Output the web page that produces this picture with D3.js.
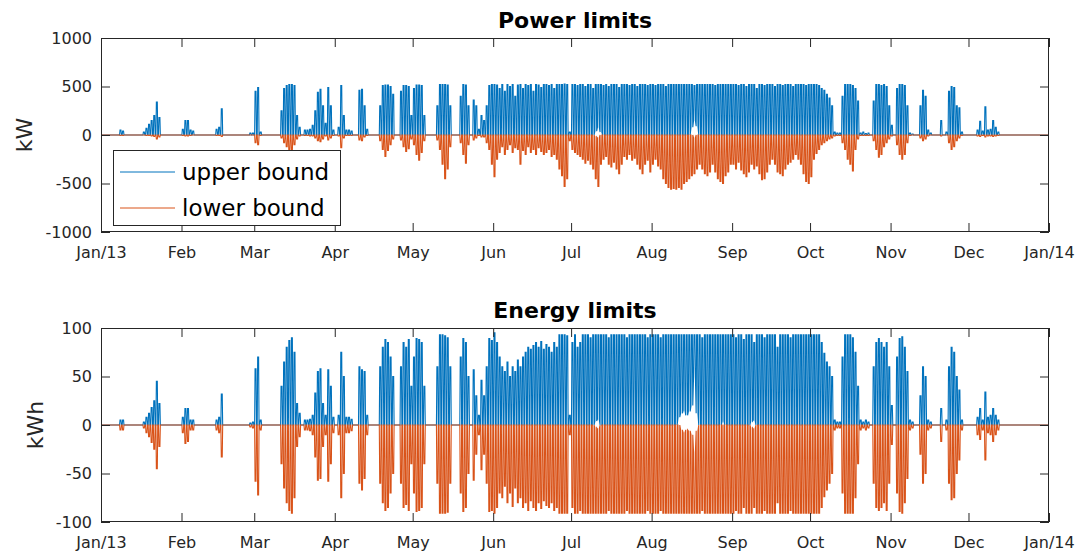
<!DOCTYPE html>
<html>
<head>
<meta charset="utf-8">
<title>Power and energy limits</title>
<script src="https://d3js.org/d3.v7.min.js"></script>
<style>
  body { margin: 0; background: #fff; overflow: hidden; }
  svg text { font-family: "DejaVu Sans", sans-serif; fill: #262626; }
</style>
</head>
<body>
<script>
// ---- data: one daily peak per day, grouped by month (Jan..Dec 2013) ----
const monthLabels = ["Jan/13", "Feb", "Mar", "Apr", "May", "Jun", "Jul", "Aug", "Sep", "Oct", "Nov", "Dec", "Jan/14"];

// power upper bound, kW
const powerUpper = [
  [0,0,0,0,0,0,0,50,40,0, 0,0,0,0,0,0,30,70,110,150, 200,340,180,0,0,0,0,0,0,0, 0],
  [60,150,150,50,40,0,0,0,0,0, 0,0,0,60,80,270,0,0,0,0, 0,0,0,0,0,0,20,20],
  [450,490,30,0,0,0,0,0,0,0, 250,480,510,520,520,510,200,80,0,50, 50,60,100,250,440,470,300,120,490,300, 50],
  [0,80,510,200,50,50,40,0,0,460, 470,300,60,0,0,0,0,300,510,515, 515,500,420,0,0,450,510,510,500,200],
  [480,515,515,510,200,0,0,0,0,300, 520,520,520,515,300,0,0,0,400,520, 515,300,0,360,300,60,200,150,300,510, 520],
  [520,515,480,520,450,520,500,520,400,515, 520,480,520,510,520,450,520,515,490,520, 520,510,520,480,520,520,520,525,520,30],
  [520,520,510,520,520,500,520,520,480,520, 520,520,510,520,500,520,520,520,490,520, 520,520,510,520,520,500,520,520,520,510, 520],
  [520,510,520,520,520,500,520,520,520,520, 520,520,520,520,520,520,510,520,520,520, 520,520,520,520,510,520,520,520,520,520, 520],
  [520,520,510,520,520,500,520,520,520,480, 520,520,510,520,520,520,500,520,520,510, 520,520,520,500,520,520,520,520,510,520],
  [520,520,520,510,480,460,420,380,300,30, 20,20,400,520,520,520,510,480,350,20, 30,15,20,0,350,520,520,510,520,500, 300],
  [100,0,480,520,520,510,300,20,10,0, 0,300,460,400,50,20,0,0,0,150, 0,30,450,500,490,300,280,30,0,0],
  [0,0,0,50,140,40,290,50,60,150, 80,30,0,0,0,0,0,0,0,0, 0,0,0,0,0,0,0,0,0,0, 0]
];

// power lower bound, kW
const powerLower = [
  [0,0,0,0,0,0,0,-5,-5,0, 0,0,0,0,0,0,0,-5,-5,-10, -15,-40,-20,0,0,0,0,0,0,0, 0],
  [-5,-10,-10,-5,0,0,0,0,0,0, 0,0,0,-5,-5,-15,0,0,0,0, 0,0,0,0,0,0,0,0],
  [-80,-100,-5,0,0,0,0,0,0,0, -30,-80,-120,-170,-160,-100,-40,-10,0,-5, -5,-10,-10,-30,-60,-70,-40,-10,-50,-30, -5],
  [0,-10,-130,-30,-5,-5,-5,0,0,-50, -60,-20,-5,0,0,0,0,-60,-150,-220, -160,-100,-40,0,0,-50,-120,-170,-140,-40],
  [-100,-200,-260,-180,-60,0,0,0,0,-50, -150,-300,-450,-350,-120,0,0,0,-80,-200, -290,-100,0,-50,-30,-5,-20,-20,-80,-150, -300],
  [-430,-250,-180,-120,-200,-150,-100,-180,-130,-150, -300,-160,-200,-120,-180,-150,-200,-130,-170,-200, -180,-150,-220,-200,-250,-350,-420,-530,-450,-60],
  [-150,-180,-200,-220,-250,-290,-260,-300,-350,-450, -530,-300,-250,-220,-300,-330,-280,-350,-400,-300, -220,-250,-200,-260,-240,-300,-350,-400,-300,-260, -380],
  [-300,-250,-320,-350,-450,-500,-540,-560,-550,-560, -540,-560,-500,-480,-450,-420,-400,-350,-300,-350, -400,-420,-380,-300,-380,-450,-480,-500,-420,-380, -300],
  [-300,-350,-280,-360,-400,-430,-380,-300,-350,-320, -400,-460,-450,-380,-300,-250,-300,-380,-400,-420, -350,-300,-280,-250,-200,-250,-300,-400,-480,-500],
  [-430,-250,-190,-150,-100,-80,-60,-40,-30,-10, -5,-5,-80,-150,-250,-300,-370,-150,-40,-5, -5,-5,-5,0,-60,-150,-230,-200,-120,-80, -40],
  [-10,0,-100,-200,-250,-200,-80,-5,0,0, 0,-30,-60,-40,-10,0,0,0,0,-10, 0,0,-80,-150,-120,-60,-30,-5,0,0],
  [0,0,0,-10,-15,-5,-20,-10,-10,-15, -10,-5,0,0,0,0,0,0,0,0, 0,0,0,0,0,0,0,0,0,0, 0]
];

// energy upper bound, kWh
const energyUpper = [
  [0,0,0,0,0,0,0,5,5,0, 0,0,0,0,0,0,3,8,12,18, 25,45,22,0,0,0,0,0,0,0, 0],
  [8,17,17,5,5,0,0,0,0,0, 0,0,0,5,8,32,0,0,0,0, 0,0,0,0,0,0,2,3],
  [58,70,5,0,0,0,0,0,0,0, 40,65,80,87,90,75,22,12,0,5, 5,6,10,33,55,58,22,10,57,40, 8],
  [0,10,75,50,8,8,6,0,0,60, 57,55,10,0,0,0,0,60,80,88, 85,70,50,0,0,60,85,80,88,40],
  [70,89,88,85,40,0,0,0,0,60, 93,93,92,90,60,0,0,0,70,89, 85,50,0,57,30,10,46,30,60,89, 87],
  [95,85,70,60,55,65,50,60,55,67, 60,70,75,80,78,82,85,80,86,78, 83,80,75,85,80,93,93,93,92,10],
  [85,93,80,85,93,93,93,90,93,93, 93,93,93,93,90,93,93,93,93,93, 93,90,93,93,93,93,93,93,93,90, 93],
  [93,93,93,90,93,93,93,93,93,93, 93,93,93,93,93,93,93,93,93,90, 93,93,93,93,93,93,93,93,93,93, 93],
  [93,90,93,93,88,93,93,93,85,93, 93,93,90,93,93,93,93,80,93,93, 93,93,90,93,93,93,93,93,93,93],
  [93,93,93,93,85,74,65,60,50,5, 3,3,70,93,93,93,90,75,40,5, 3,5,3,0,60,85,89,85,80,85, 60],
  [20,0,70,89,91,80,55,5,3,0, 0,30,60,50,5,3,0,0,0,17, 0,5,60,80,75,50,36,5,0,0],
  [0,0,0,8,17,5,34,8,10,17, 10,5,0,0,0,0,0,0,0,0, 0,0,0,0,0,0,0,0,0,0, 0]
];

// energy lower bound, kWh
const energyLower = [
  [0,0,0,0,0,0,0,-5,-5,0, 0,0,0,0,0,0,-3,-8,-12,-18, -25,-45,-22,0,0,0,0,0,0,0, 0],
  [-8,-19,-17,-5,-5,0,0,0,0,0, 0,0,0,-5,-8,-33,0,0,0,0, 0,0,0,0,0,0,-2,-3],
  [-58,-72,-5,0,0,0,0,0,0,0, -40,-65,-80,-88,-91,-75,-22,-12,0,-5, -5,-6,-10,-33,-57,-55,-22,-10,-58,-40, -8],
  [0,-10,-75,-50,-8,-8,-6,0,0,-60, -67,-55,-10,0,0,0,0,-60,-80,-88, -85,-70,-50,0,0,-60,-85,-82,-88,-40],
  [-70,-89,-88,-85,-40,0,0,0,0,-60, -91,-91,-91,-90,-60,0,0,0,-70,-89, -85,-50,0,-57,-30,-10,-46,-30,-60,-89, -88],
  [-91,-85,-70,-75,-63,-80,-70,-84,-65,-80, -75,-85,-80,-88,-78,-85,-88,-80,-86,-78, -83,-85,-80,-88,-85,-91,-91,-91,-91,-10],
  [-85,-91,-91,-88,-91,-91,-91,-91,-91,-91, -91,-91,-91,-91,-88,-91,-91,-91,-91,-91, -91,-88,-91,-91,-91,-91,-91,-91,-91,-88, -91],
  [-91,-91,-91,-88,-91,-91,-91,-91,-91,-91, -91,-91,-91,-91,-91,-91,-91,-91,-91,-88, -91,-91,-91,-91,-91,-91,-91,-91,-91,-91, -91],
  [-91,-88,-91,-91,-85,-91,-91,-91,-85,-91, -91,-91,-88,-91,-91,-91,-91,-80,-91,-91, -91,-91,-88,-91,-91,-91,-91,-91,-91,-91],
  [-91,-91,-91,-91,-85,-74,-67,-60,-50,-5, -3,-3,-70,-91,-91,-91,-91,-75,-40,-5, -3,-5,-3,0,-60,-85,-88,-85,-80,-88, -60],
  [-20,0,-70,-89,-91,-80,-55,-5,-3,0, 0,-30,-60,-50,-5,-3,0,0,0,-17, 0,-5,-60,-77,-75,-50,-36,-5,0,0],
  [0,0,0,-10,-15,-5,-36,-8,-10,-17, -10,-5,0,0,0,0,0,0,0,0, 0,0,0,0,0,0,0,0,0,0, 0]
];

// nights where a bound did not return to zero: [month, day, level]
const powerUpperFloor = [[6,10,40],[6,11,80],[6,12,30],[7,16,80],[7,17,150],[7,18,90]];
const powerLowerCeil = [[6,10,-20],[6,11,-30],[7,17,-30]];
const energyUpperFloor = [[6,10,4],[6,11,6],[7,11,8],[7,12,12],[7,13,15],[7,14,10],[7,15,14],[7,16,20],[7,17,50],[7,18,12],[7,28,4],[8,8,4],[8,9,5]];
const energyLowerCeil = [[6,10,-3],[6,11,-4],[7,12,-5],[7,13,-8],[7,14,-5],[7,15,-6],[7,16,-10],[7,17,-28],[7,18,-6],[8,8,-3],[8,9,-4]];

const powerTicks = [-1000, -500, 0, 500, 1000];
const energyTicks = [-100, -50, 0, 50, 100];

// ---- drawing ----
const width = 1079, height = 553;
const blue = "#0072BD", orange = "#D95319", axisColor = "#262626";
const DAY = 864e5;
const start = new Date(Date.UTC(2013, 0, 1)), end = new Date(Date.UTC(2014, 0, 1));
const left = 101, right = 1049;

const svg = d3.select("body").append("svg").attr("width", width).attr("height", height);

const x = d3.scaleTime().domain([start, end]).range([left, right]);
const monthTicks = d3.utcMonth.range(start, new Date(Date.UTC(2014, 0, 2)));

function spikes(byMonth, floors) {
  const fl = new Map(floors.map(f => [f[0] + "-" + f[1], f[2]]));
  const pts = [[start, 0]];
  byMonth.forEach((vals, m) => vals.forEach((v, i) => {
    const t0 = Date.UTC(2013, m, i + 1);
    const f = fl.get(m + "-" + (i + 1)) || 0;
    [[0.15, f], [0.32, v], [0.68, v], [0.85, f]].forEach(p => pts.push([new Date(t0 + p[0] * DAY), p[1]]));
  }));
  pts.push([end, 0]);
  return pts;
}

function drawPanel(cfg) {
  const y = d3.scaleLinear().domain([-cfg.max, cfg.max]).range([cfg.bottom, cfg.top]);
  const g = svg.append("g");

  svg.append("clipPath").attr("id", "clip" + cfg.id)
    .append("rect").attr("x", left).attr("y", cfg.top)
    .attr("width", right - left).attr("height", cfg.bottom - cfg.top);

  const line = d3.line().x(p => x(p[0])).y(p => y(p[1]));
  const plot = g.append("g").attr("clip-path", `url(#clip${cfg.id})`);
  plot.append("path").datum(spikes(cfg.upper, cfg.upperFloor))
    .attr("d", line).attr("fill", "none").attr("stroke", blue).attr("stroke-width", 1.1);
  plot.append("path").datum(spikes(cfg.lower, cfg.lowerCeil))
    .attr("d", line).attr("fill", "none").attr("stroke", orange).attr("stroke-width", 1.1);

  const styleAxis = a => {
    a.select(".domain").remove();
    a.selectAll(".tick line").attr("stroke", axisColor);
    a.selectAll(".tick text").attr("fill", axisColor);
    a.attr("font-size", 16).attr("font-family", "DejaVu Sans");
  };

  g.append("g").attr("transform", `translate(0,${cfg.bottom})`)
    .call(d3.axisBottom(x).tickValues(monthTicks).tickFormat((d, i) => monthLabels[i])
      .tickSizeInner(-9).tickSizeOuter(0).tickPadding(15))
    .call(styleAxis);
  g.append("g").attr("transform", `translate(0,${cfg.top})`)
    .call(d3.axisTop(x).tickValues(monthTicks).tickFormat("").tickSizeInner(-9).tickSizeOuter(0))
    .call(styleAxis);
  g.append("g").attr("transform", `translate(${left},0)`)
    .call(d3.axisLeft(y).tickValues(cfg.ticks).tickFormat(d => String(d))
      .tickSizeInner(-9).tickSizeOuter(0).tickPadding(9))
    .call(styleAxis);
  g.append("g").attr("transform", `translate(${right},0)`)
    .call(d3.axisRight(y).tickValues(cfg.ticks).tickFormat("").tickSizeInner(-9).tickSizeOuter(0))
    .call(styleAxis);

  g.append("rect").attr("x", left + 0.5).attr("y", cfg.top + 0.5)
    .attr("width", right - left - 1).attr("height", cfg.bottom - cfg.top - 1)
    .attr("fill", "none").attr("stroke", axisColor).attr("stroke-width", 1);

  g.append("text").attr("x", (left + right) / 2).attr("y", cfg.top - 10)
    .attr("text-anchor", "middle").attr("font-size", 22).attr("font-weight", "bold")
    .style("fill", "#000").text(cfg.title);

  g.append("text").attr("transform", `translate(${cfg.labelX},${(cfg.top + cfg.bottom) / 2}) rotate(-90)`)
    .attr("text-anchor", "middle").attr("font-size", 22).text(cfg.label);
}

drawPanel({ id: 1, top: 38, bottom: 232, max: 1000, ticks: powerTicks, title: "Power limits",
  label: "kW", labelX: 32, upper: powerUpper, lower: powerLower,
  upperFloor: powerUpperFloor, lowerCeil: powerLowerCeil });

drawPanel({ id: 2, top: 328, bottom: 522, max: 100, ticks: energyTicks, title: "Energy limits",
  label: "kWh", labelX: 43, upper: energyUpper, lower: energyLower,
  upperFloor: energyUpperFloor, lowerCeil: energyLowerCeil });

// legend (top panel)
const legend = svg.append("g");
legend.append("rect").attr("x", 113.5).attr("y", 150.5).attr("width", 227).attr("height", 75)
  .attr("fill", "#fff").attr("stroke", axisColor).attr("stroke-width", 1);
[["upper bound", blue, 172], ["lower bound", orange, 208]].forEach(([name, color, ly]) => {
  legend.append("line").attr("x1", 120).attr("x2", 175).attr("y1", ly).attr("y2", ly)
    .attr("stroke", color).attr("stroke-width", 1);
  legend.append("text").attr("x", 182).attr("y", ly + 8).attr("font-size", 23).style("fill", "#000").text(name);
});
</script>
</body>
</html>
